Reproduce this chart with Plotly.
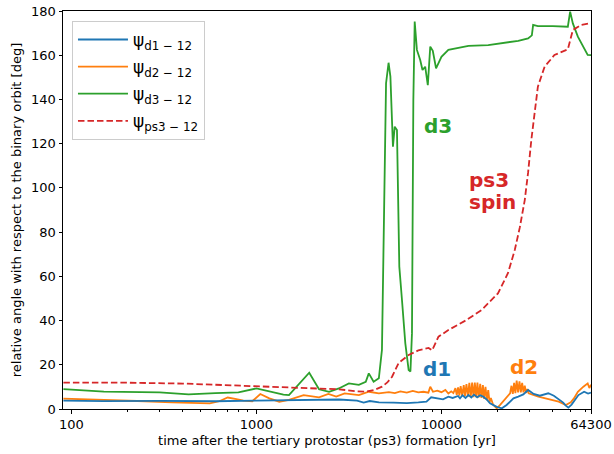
import math
import plotly.graph_objects as go

# ---- data (years, degrees) ----
d1_t = [90.6, 150, 300, 600, 1000, 1500, 2000, 2800, 3500, 3800, 4100, 4600, 5500, 6500, 7500, 8300, 8800,
        9500, 10200, 10900, 11500, 12300, 12600, 13000, 13500, 14000, 14500, 15000, 15600, 16200, 16800,
        17500, 18300, 19900, 21200, 22500, 24500, 26000, 27700, 29400, 31500, 34000, 37800,
        40500, 42500, 45500, 47000, 48500, 50500, 52000, 55000, 59000, 62000, 64300]
d1_v = [3.8, 3.6, 3.7, 3.5, 3.8, 4.0, 4.1, 4.3, 3.8, 2.9, 3.6, 3.0, 2.9, 2.7, 3.0, 3.3, 5.3,
        4.8, 4.4, 5.6, 5.0, 5.9, 4.8, 6.2, 5.0, 6.3, 5.2, 6.5, 5.3, 6.2, 5.6,
        4.4, 2.6, 1.0, 0.3, 1.8, 4.8, 5.6, 6.6, 8.6, 6.8, 6.0, 7.1,
        6.0, 4.8, 2.9, 1.5, 0.6, 2.0, 3.3, 6.3, 7.8, 7.0, 7.4]

d2_t = [90.6, 150, 250, 350, 500, 560, 630, 700, 780, 850, 950, 1050, 1175, 1330, 1500, 1800, 2180, 2450,
        2700, 3000, 3580, 4050, 4590, 5200, 5600, 6000, 6500, 7000, 7500, 8000, 8500, 8700, 9000, 9500,
        10000, 10500, 10900, 11300, 11600,
        11900, 12100, 12300, 12500, 12700, 12950, 13200, 13400, 13650, 13900, 14150, 14400, 14650, 14900,
        15150, 15400, 15650, 15900, 16200, 16450, 16750, 17000, 17300, 17600, 17900, 18200, 18500, 19000,
        19600, 19900, 20700, 22100,
        23500, 23900, 24300, 24700, 25100, 25500, 25950, 26400, 26850, 27300, 27750, 28200, 28650, 29100,
        29600, 33400, 37000, 43000, 47000, 50000, 52000, 54600, 58500, 61700, 63000, 64300]
d2_v = [4.7, 4.2, 3.5, 3.0, 2.6, 2.5, 3.5, 5.2, 4.5, 3.8, 3.5, 6.8, 4.8, 3.3, 4.1, 6.3, 5.3, 6.8,
        5.6, 7.1, 6.3, 7.8, 7.1, 7.6, 7.2, 8.0, 7.4, 8.2, 7.5, 7.8, 7.4, 10.1, 7.8, 8.3,
        7.6, 8.6, 7.0, 8.0, 7.2,
        9.4, 6.3, 9.8, 6.1, 10.3, 6.0, 10.8, 5.8, 11.3, 5.6, 11.8, 5.5, 12.0, 5.4,
        12.0, 5.3, 11.9, 5.2, 11.4, 5.0, 10.8, 4.6, 10.0, 4.0, 8.5, 3.0, 5.0, 2.0,
        1.0, 0.3, 1.8, 4.8,
        7.1, 10.5, 6.8, 11.8, 7.2, 12.8, 7.5, 12.5, 7.5, 11.8, 7.5, 10.5, 7.3, 9.0,
        7.1, 5.6, 4.8, 3.3, 1.8, 3.0, 4.8, 7.8, 10.1, 11.6, 9.5, 11.0]

d3_t = [90.6, 150, 300, 430, 600, 800, 1000, 1175, 1400, 1500, 1650, 1930, 2180, 2470, 2790, 3160, 3580,
        3900, 4050, 4300, 4590, 4770, 4900, 5020, 5180, 5300, 5470, 5590, 5750, 5920, 6120, 6380, 6650,
        6800, 6930, 7050, 7170, 7370, 7680, 7900, 8170, 8440, 8700, 8980, 9350, 9800, 10000, 10900,
        12300, 14000, 17900, 22000, 26000, 29400, 30800, 31300, 33200, 40000, 48200, 49600, 51300,
        54600, 58100, 61700, 64300]
d3_v = [9.0, 7.9, 7.5, 6.6, 7.2, 7.5, 9.3, 7.8, 6.5, 6.3, 10.1, 16.4, 8.9, 7.8, 9.3, 11.6, 10.9,
        12.3, 16.1, 12.3, 13.9, 26.7, 90.0, 147.3, 156.6, 150.3, 118.6, 127.7, 126.2, 64.4, 49.3, 29.7, 17.6,
        17.0, 34.2, 139.8, 175.2, 162.4, 157.8, 153.3, 154.8, 146.5, 163.9, 162.0, 154.1, 157.8, 159.3, 162.4,
        163.4, 164.2, 164.6, 165.5, 166.5, 167.6, 169.0, 173.7, 173.2, 173.2, 172.9, 179.7, 174.4,
        168.4, 163.9, 160.1, 160.0]

ps3_t = [90.6, 200, 400, 632, 1000, 1500, 2000, 2800, 3500, 3890, 4300, 4775, 5100, 5410, 5870, 6650,
         7500, 8520, 8900, 9640, 10900, 13500, 16500, 20200, 22900, 24900, 26500, 28200, 29400, 30600,
         33200, 36100, 40800, 48200, 51300, 56800, 64300]
ps3_v = [11.9, 11.9, 11.5, 10.9, 10.4, 10.0, 9.5, 8.9, 8.0, 7.8, 8.5, 10.1, 12.0, 14.6, 20.8, 24.4,
         26.5, 27.6, 26.5, 32.7, 35.7, 40.0, 44.8, 52.3, 61.5, 71.9, 82.0, 94.5, 107.0, 121.7,
         145.8, 154.8, 160.1, 162.7, 171.4, 173.7, 174.5]

x_ticks = [100, 1000, 10000, 64300]
x_ticklabels = ["100", "1000", "10000", "64300"]
x_minor = [200, 300, 400, 500, 600, 700, 800, 900, 2000, 3000, 4000, 5000, 6000, 7000, 8000, 9000,
           20000, 30000, 40000, 50000, 60000]
y_ticks = [0, 20, 40, 60, 80, 100, 120, 140, 160, 180]

# text labels: (text, time [yr], angle [deg])
label_text = ["d3", "ps3", "spin", "d1", "d2"]
label_t = [9575, 13800, 13800, 9440, 27780]
label_v = [127.8, 103.4, 93.6, 17.9, 18.8]

BLUE, ORANGE, GREEN, RED = "#1f77b4", "#ff7f0e", "#2ca02c", "#d62728"
label_col = [GREEN, RED, RED, BLUE, ORANGE]
label_anchor = ["center", "left", "left", "center", "center"]
FONT = "DejaVu Sans"
LW = 1.8

fig = go.Figure()
fig.add_trace(go.Scatter(x=d2_t, y=d2_v, mode="lines", line=dict(color=ORANGE, width=LW),
                         name="ψ<sub>d2 − 12</sub>", legendrank=2, legendgroup="g2"))
fig.add_trace(go.Scatter(x=d1_t, y=d1_v, mode="lines", line=dict(color=BLUE, width=LW),
                         name="ψ<sub>d1 − 12</sub>", legendrank=1, legendgroup="g1"))
fig.add_trace(go.Scatter(x=d3_t, y=d3_v, mode="lines", line=dict(color=GREEN, width=LW),
                         name="ψ<sub>d3 − 12</sub>", legendrank=3, legendgroup="g3"))
fig.add_trace(go.Scatter(x=ps3_t, y=ps3_v, mode="lines", line=dict(color=RED, width=LW, dash="6.5px,3px"),
                         name="ψ<sub>ps3 − 12</sub>", legendrank=4, legendgroup="g4"))

for txt, ax, ay, col, anchor in zip(label_text, label_t, label_v, label_col, label_anchor):
    fig.add_annotation(x=math.log10(ax), y=ay, xref="x", yref="y", text=f"<b>{txt}</b>", showarrow=False,
                       xanchor=anchor, yanchor="middle", font=dict(family=FONT, size=20, color=col))

axis_common = dict(showline=True, linecolor="black", linewidth=1, mirror=True, ticks="outside",
                   ticklen=3.5, tickwidth=1, tickcolor="black", showgrid=False, zeroline=False,
                   automargin=False, tickfont=dict(family=FONT, size=13, color="black"))
fig.update_xaxes(type="log", range=[1.955, 4.8082], tickmode="array", tickvals=x_ticks,
                 ticktext=x_ticklabels,
                 minor=dict(ticks="outside", ticklen=2, tickwidth=0.8, tickcolor="black",
                            tickmode="array", tickvals=x_minor, showgrid=False),
                 title=dict(text="time after the tertiary protostar (ps3) formation [yr]",
                            font=dict(family=FONT, size=13, color="black"), standoff=4),
                 **axis_common)
fig.update_yaxes(range=[0, 180], tickmode="array", tickvals=y_ticks,
                 title=dict(text="relative angle with respect to the binary orbit [deg]",
                            font=dict(family=FONT, size=13, color="black"), standoff=6),
                 **axis_common)

fig.update_layout(
    width=614, height=454, margin=dict(l=63, r=23, t=11, b=45),
    plot_bgcolor="white", paper_bgcolor="white",
    font=dict(family=FONT, size=13, color="black"),
    legend=dict(x=0.017, y=0.975, xanchor="left", yanchor="top", bgcolor="rgba(255,255,255,0.8)",
                bordercolor="#cccccc", borderwidth=1, font=dict(family=FONT, size=17, color="black"),
                tracegroupgap=2, traceorder="grouped", itemwidth=50),
    showlegend=True,
)
fig.write_html("out.html", config={"displayModeBar": False},
               post_script="document.body.style.margin='0px';")
